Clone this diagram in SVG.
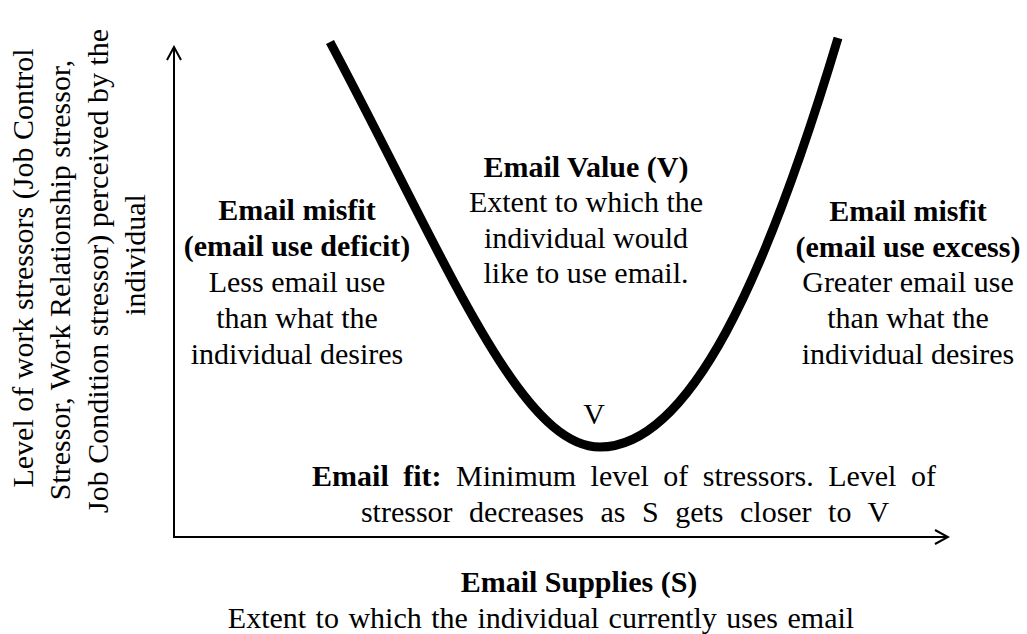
<svg xmlns="http://www.w3.org/2000/svg" width="1027" height="634" viewBox="0 0 1027 634">
<style>
text{font-family:'Liberation Serif','Times New Roman',serif;font-size:30px;fill:#000;text-anchor:middle}
.b{font-weight:bold}
.ax{stroke:#000;stroke-width:2;fill:none}
.curve{stroke:#000;stroke-width:9;fill:none;stroke-linecap:butt}
</style>
<defs>
<marker id="arr" viewBox="0 0 16 16" refX="14" refY="8" markerWidth="16" markerHeight="16" markerUnits="userSpaceOnUse" orient="auto">
<path d="M1,1 L14,8 L1,15" fill="none" stroke="#000" stroke-width="2"/>
</marker>
</defs>
<g id="connectors">
<line class="ax" x1="174" y1="537" x2="174" y2="47" marker-end="url(#arr)"/>
<line class="ax" x1="173" y1="537" x2="948" y2="537" marker-end="url(#arr)"/>
<path id="curve" class="curve" d="M330,42 C447,262 520,447 600,447 C690,447 766,278 838,38"/>
</g>
<g id="y-label">
<text transform="translate(33,268) rotate(-90)">Level of work stressors (Job Control</text>
<text transform="translate(70,280) rotate(-90)">Stressor, Work Relationship stressor,</text>
<text transform="translate(108,271) rotate(-90)">Job Condition stressor) perceived by the</text>
<text transform="translate(145,255) rotate(-90)">individual</text>
</g>
<g id="misfit-deficit">
<text class="b" x="297" y="220">Email misfit</text>
<text class="b" x="297" y="256">(email use deficit)</text>
<text x="297" y="292">Less email use</text>
<text x="297" y="328">than what the</text>
<text x="297" y="364">individual desires</text>
</g>
<g id="email-value">
<text class="b" x="586" y="177">Email Value (V)</text>
<text x="586" y="212">Extent to which the</text>
<text x="586" y="248">individual would</text>
<text x="586" y="283">like to use email.</text>
</g>
<g id="misfit-excess">
<text class="b" x="908" y="221">Email misfit</text>
<text class="b" x="908" y="257">(email use excess)</text>
<text x="908" y="292">Greater email use</text>
<text x="908" y="328">than what the</text>
<text x="908" y="364">individual desires</text>
</g>
<g id="v-point">
<text x="594" y="424">V</text>
</g>
<g id="email-fit">
<text x="624" y="486" style="word-spacing:7px"><tspan class="b">Email fit:</tspan> Minimum level of stressors. Level of</text>
<text x="625" y="522" style="word-spacing:9px">stressor decreases as S gets closer to V</text>
</g>
<g id="x-label">
<text class="b" x="579" y="592">Email Supplies (S)</text>
<text x="541" y="628" style="word-spacing:2px">Extent to which the individual currently uses email</text>
</g>
</svg>
